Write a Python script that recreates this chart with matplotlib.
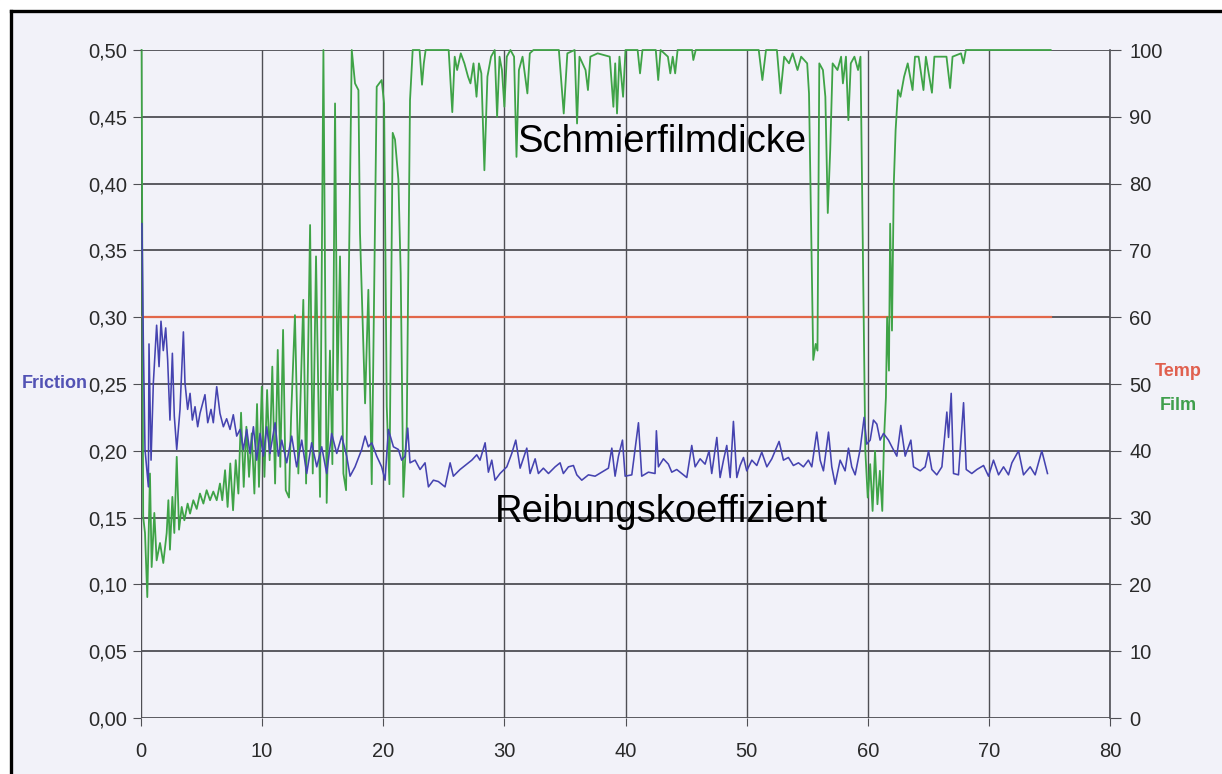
import matplotlib
matplotlib.use("Agg")
import matplotlib.pyplot as plt
from matplotlib.lines import Line2D
from matplotlib.patches import Rectangle

plt.rcParams['font.family'] = ['Liberation Sans', 'DejaVu Sans']

# Reibungskoeffizient (left axis)
friction_x = [0.08, 0.19, 0.33, 0.61, 0.66, 0.83, 1.02, 1.29, 1.49, 1.65, 1.84, 2.04, 2.20, 2.39, 2.59,
              2.75, 2.95, 3.22, 3.50, 3.63, 3.85, 4.05, 4.24, 4.46, 4.68, 4.87, 5.28, 5.51, 5.78, 5.97,
              6.25, 6.52, 6.80, 7.07, 7.35, 7.62, 7.90, 8.18, 8.45, 8.73, 9.00, 9.28, 9.55, 9.83, 10.10,
              10.38, 10.65, 11.07, 11.34, 11.62, 12.03, 12.44, 12.85, 13.27, 13.68, 14.09, 14.51, 14.92,
              15.33, 15.74, 16.16, 16.57, 16.98, 17.26, 17.67, 18.22, 18.50, 18.77, 19.05, 19.46, 19.87,
              20.15, 20.42, 20.84, 21.25, 21.52, 21.80, 22.02, 22.21, 22.63, 23.04, 23.45, 23.73, 24.14,
              24.55, 25.10, 25.52, 25.79, 26.34, 26.75, 27.31, 27.72, 27.99, 28.41, 28.68, 28.96, 29.23,
              29.64, 30.20, 30.61, 30.94, 31.30, 31.85, 32.12, 32.54, 32.81, 33.22, 33.64, 34.19, 34.60,
              34.87, 35.29, 35.70, 35.98, 36.39, 36.94, 37.49, 38.04, 38.59, 38.87, 39.14, 39.42, 39.75,
              39.97, 40.52, 41.07, 41.34, 41.89, 42.44, 42.55, 42.72, 43.13, 43.54, 43.82, 44.23, 44.65,
              45.06, 45.47, 45.75, 46.16, 46.57, 46.90, 47.12, 47.54, 47.81, 48.09, 48.36, 48.64, 48.91,
              49.19, 49.46, 49.74, 50.01, 50.43, 50.84, 51.25, 51.67, 52.08, 52.68, 53.04, 53.45, 53.86,
              54.28, 54.69, 55.10, 55.38, 55.79, 56.07, 56.34, 56.76, 57.03, 57.31, 57.72, 58.13, 58.41,
              58.68, 58.96, 59.37, 59.70, 59.92, 60.20, 60.47, 60.75, 61.02, 61.30, 61.71, 61.99, 62.40,
              62.73, 63.09, 63.56, 63.78, 64.33, 64.74, 65.02, 65.29, 65.70, 66.12, 66.53, 66.67, 66.89,
              67.08, 67.49, 67.91, 68.13, 68.59, 69.01, 69.56, 69.97, 70.38, 70.80, 71.21, 71.62, 71.90,
              72.45, 72.86, 73.41, 73.82, 74.37, 74.84]
friction_y = [0.370, 0.283, 0.201, 0.173, 0.280, 0.193, 0.251, 0.294, 0.263, 0.297, 0.275, 0.292, 0.268,
              0.223, 0.273, 0.226, 0.201, 0.231, 0.289, 0.251, 0.231, 0.243, 0.223, 0.233, 0.218, 0.228,
              0.242, 0.221, 0.231, 0.221, 0.248, 0.228, 0.218, 0.224, 0.216, 0.227, 0.211, 0.216, 0.201,
              0.216, 0.198, 0.218, 0.193, 0.213, 0.196, 0.218, 0.198, 0.221, 0.196, 0.208, 0.191, 0.211,
              0.188, 0.208, 0.183, 0.206, 0.188, 0.203, 0.183, 0.213, 0.198, 0.211, 0.196, 0.181, 0.188,
              0.201, 0.211, 0.203, 0.206, 0.196, 0.188, 0.178, 0.216, 0.203, 0.201, 0.193, 0.196, 0.217,
              0.191, 0.193, 0.186, 0.191, 0.173, 0.178, 0.177, 0.173, 0.191, 0.181, 0.186, 0.189, 0.193,
              0.197, 0.193, 0.206, 0.184, 0.193, 0.178, 0.183, 0.188, 0.198, 0.208, 0.187, 0.202, 0.183,
              0.194, 0.183, 0.187, 0.183, 0.188, 0.191, 0.183, 0.188, 0.189, 0.182, 0.178, 0.182, 0.181,
              0.184, 0.187, 0.202, 0.181, 0.196, 0.208, 0.181, 0.182, 0.221, 0.181, 0.184, 0.183, 0.215,
              0.188, 0.194, 0.190, 0.184, 0.186, 0.183, 0.180, 0.204, 0.188, 0.194, 0.190, 0.200, 0.183,
              0.210, 0.180, 0.193, 0.204, 0.180, 0.222, 0.180, 0.189, 0.195, 0.185, 0.193, 0.189, 0.199,
              0.188, 0.194, 0.207, 0.193, 0.195, 0.189, 0.191, 0.188, 0.193, 0.188, 0.214, 0.193, 0.185,
              0.214, 0.188, 0.175, 0.193, 0.185, 0.202, 0.188, 0.182, 0.201, 0.225, 0.205, 0.208, 0.223,
              0.220, 0.208, 0.213, 0.208, 0.203, 0.196, 0.219, 0.196, 0.208, 0.188, 0.185, 0.188, 0.200,
              0.186, 0.182, 0.188, 0.229, 0.210, 0.243, 0.183, 0.182, 0.236, 0.186, 0.183, 0.186, 0.189,
              0.181, 0.193, 0.182, 0.188, 0.182, 0.191, 0.200, 0.182, 0.188, 0.182, 0.200, 0.183]

# Schmierfilmdicke (right axis)
film_x = [0.05, 0.18, 0.33, 0.52, 0.74, 0.88, 1.10, 1.29, 1.57, 1.84, 2.12, 2.26, 2.39, 2.59, 2.75, 2.95,
          3.14, 3.36, 3.58, 3.85, 4.05, 4.32, 4.60, 4.87, 5.15, 5.42, 5.70, 5.97, 6.25, 6.52, 6.71, 6.94,
          7.15, 7.37, 7.60, 7.82, 8.04, 8.26, 8.48, 8.70, 8.92, 9.14, 9.36, 9.58, 9.74, 9.97, 10.19, 10.41,
          10.62, 10.84, 11.07, 11.29, 11.50, 11.73, 11.95, 12.22, 12.39, 12.71, 12.99, 13.20, 13.40, 13.63,
          13.96, 14.18, 14.45, 14.78, 15.06, 15.33, 15.60, 15.80, 16.02, 16.21, 16.43, 16.71, 16.93, 17.40,
          17.67, 17.95, 18.08, 18.50, 18.77, 19.05, 19.46, 19.87, 20.07, 20.29, 20.51, 20.78, 20.97, 21.25,
          21.44, 21.66, 21.94, 22.21, 22.43, 23.00, 23.20, 23.35, 23.50, 25.40, 25.70, 25.90, 26.10, 26.40,
          26.70, 27.00, 27.20, 27.45, 27.70, 27.90, 28.10, 28.35, 28.60, 28.90, 29.20, 29.40, 29.60, 29.80,
          30.00, 30.20, 30.50, 30.80, 31.00, 31.20, 31.50, 31.90, 32.10, 32.40, 34.50, 34.90, 35.20, 35.80,
          36.00, 36.20, 36.70, 36.90, 37.10, 37.70, 38.70, 39.00, 39.15, 39.30, 39.50, 39.80, 40.00, 41.00,
          41.20, 41.40, 42.50, 42.70, 42.90, 43.50, 43.70, 43.90, 44.10, 44.30, 45.50, 45.60, 45.80, 51.00,
          51.30, 51.60, 52.50, 52.80, 53.10, 53.50, 53.80, 54.20, 54.50, 55.00, 55.15, 55.50, 55.70, 55.85,
          56.00, 56.30, 56.50, 56.70, 56.90, 57.10, 57.50, 57.80, 57.95, 58.20, 58.40, 58.60, 58.90, 59.20,
          59.40, 59.60, 59.80, 60.00, 60.20, 60.40, 60.60, 60.80, 61.00, 61.20, 61.35, 61.50, 61.60, 61.75,
          61.85, 62.00, 62.15, 62.30, 62.50, 62.70, 63.00, 63.30, 63.70, 63.90, 64.20, 64.60, 64.80, 65.30,
          65.50, 66.50, 66.80, 67.00, 67.70, 67.90, 68.10, 75.10]
film_y = [100, 30.1, 27.7, 18.1, 36.6, 22.6, 30.7, 23.6, 26.2, 23.2, 27.7, 32.6, 25.2, 33.1, 27.7, 39.1,
          28.2, 31.6, 29.6, 32.1, 30.6, 32.6, 31.3, 33.6, 32.1, 34.1, 32.6, 33.9, 32.6, 35.1, 32.6, 37.1,
          31.6, 38.1, 31.1, 38.6, 33.6, 45.7, 34.6, 43.6, 36.1, 42.6, 33.6, 47.0, 34.6, 49.6, 36.1, 49.1,
          38.6, 52.6, 35.1, 55.1, 37.6, 58.1, 34.1, 33.0, 45.0, 60.3, 36.6, 50.0, 62.6, 35.1,
          73.8, 36.6, 69.1, 33.1, 100, 32.2, 55.0, 38.0, 92.0, 49.1, 69.1, 36.6, 34.1, 100,
          95.0, 94.0, 72.6, 47.1, 64.1, 35.0, 94.5, 95.5, 92.0, 46.6, 35.0, 87.6, 86.6, 80.6,
          66.6, 33.1, 43.6, 92.5, 100, 100, 94.8, 98.0, 100, 100, 90.7, 99.0, 97.0, 99.5,
          98.0, 96.0, 95.0, 98.0, 93.0, 98.0, 96.5, 82.0, 96.0, 99.0, 100, 90.0, 99.0, 97.0,
          91.5, 99.0, 100, 99.0, 84.0, 97.0, 99.0, 93.5, 99.5, 100, 100, 90.5, 99.5, 100,
          89.0, 99.0, 97.0, 94.0, 99.0, 99.5, 99.0, 91.5, 98.0, 90.5, 99.0, 93.0, 100, 100,
          96.5, 100, 100, 95.5, 100, 99.0, 96.5, 99.0, 96.5, 100, 100, 98.5, 100, 100,
          95.5, 100, 100, 93.5, 99.0, 98.0, 99.5, 97.0, 99.0, 98.0, 93.5, 53.6, 56.0, 55.0,
          98.0, 97.0, 93.0, 75.6, 85.0, 98.0, 97.0, 99.0, 95.0, 99.0, 89.5, 98.0, 99.0, 97.0,
          99.0, 70.0, 40.0, 33.0, 38.0, 31.0, 40.0, 32.0, 37.0, 31.0, 42.0, 48.0, 60.0, 52.0,
          74.0, 58.0, 80.0, 88.0, 94.0, 93.0, 96.0, 98.0, 94.0, 99.0, 99.0, 94.0, 99.0, 93.6,
          99.0, 99.0, 94.3, 99.0, 99.5, 98.0, 100, 100]

# Temperatur (right axis)
temp_x = [0.0, 75.1]
temp_y = [60, 60]

x_ticks = [0, 10, 20, 30, 40, 50, 60, 70, 80]
left_ticks = [0.0, 0.05, 0.10, 0.15, 0.20, 0.25, 0.30, 0.35, 0.40, 0.45, 0.50]
left_labels = ['0,00', '0,05', '0,10', '0,15', '0,20', '0,25', '0,30', '0,35', '0,40', '0,45', '0,50']
right_ticks = [0, 10, 20, 30, 40, 50, 60, 70, 80, 90, 100]

bg = '#f2f2f9'
grid_c = '#4f4f55'
W, H = 1222, 774

fig = plt.figure(figsize=(W / 100, H / 100), dpi=100)
fig.patch.set_facecolor(bg)

ax = fig.add_axes([141 / W, 1 - 718 / H, 969 / W, 668 / H])
ax2 = ax.twinx()
ax.set_zorder(ax2.get_zorder() + 1)
ax.patch.set_visible(False)
ax2.patch.set_visible(True)
ax2.patch.set_facecolor(bg)

ax.set_xlim(0, 80)
ax.set_ylim(0, 0.5)
ax2.set_ylim(0, 100)

# grid on the back axes so the curves sit on top of it
ax2.set_axisbelow(True)
ax2.set_yticks(right_ticks)
ax2.grid(axis='y', color=grid_c, lw=1.3)
for xv in x_ticks:
    ax2.axvline(xv, color=grid_c, lw=1.0, zorder=0.5)

ax2.plot(temp_x, temp_y, color='#e2674a', lw=1.6)
ax2.plot(film_x, film_y, color='#3fa347', lw=1.3, clip_on=False)
ax.plot(friction_x, friction_y, color='#4543b0', lw=1.15, clip_on=False)

ax.set_xticks(x_ticks)
ax.set_yticks(left_ticks)
ax.set_yticklabels(left_labels)
ax.tick_params(axis='x', direction='out', length=6, color=grid_c, labelsize=14.5, pad=11, labelcolor='#2a2a2a')
ax.tick_params(axis='y', direction='out', length=6, color=grid_c, labelsize=14.5, pad=4, labelcolor='#2a2a2a')
ax2.tick_params(axis='y', direction='out', length=8, color=grid_c, labelsize=14.5, pad=6, labelcolor='#2a2a2a')

for s in ax.spines.values():
    s.set_visible(False)
for k, s in ax2.spines.items():
    if k == 'right':
        s.set_color(grid_c)
        s.set_linewidth(1.2)
    else:
        s.set_visible(False)

ax.text(43, 0.4235, 'Schmierfilmdicke', ha='center', va='baseline', fontsize=27.5, color='black')
ax.text(43, 0.1467, 'Reibungskoeffizient', ha='center', va='baseline', fontsize=27.5, color='black')

fig.text(22 / W, 1 - 383 / H, 'Friction', color='#5252b4', fontweight='bold', fontsize=13,
         ha='left', va='center')
fig.text(1155 / W, 1 - 372 / H, 'Temp', color='#e0604f', fontweight='bold', fontsize=13,
         ha='left', va='center')
fig.text(1160 / W, 1 - 405 / H, 'Film', color='#3f9f4c', fontweight='bold', fontsize=13,
         ha='left', va='center')

# scanned page frame (white margin + black border on left and top)
fig.add_artist(Rectangle((0, 0), 9 / W, 1, transform=fig.transFigure, color='white', zorder=-1))
fig.add_artist(Rectangle((0, 1 - 9 / H), 1, 9 / H, transform=fig.transFigure, color='white', zorder=-1))
fig.add_artist(Line2D([10.5 / W, 10.5 / W], [0, 1 - 10.5 / H], transform=fig.transFigure,
                      color='black', lw=2.4))
fig.add_artist(Line2D([10.5 / W, 1], [1 - 10.5 / H, 1 - 10.5 / H], transform=fig.transFigure,
                      color='black', lw=2.4))

fig.savefig('out.png', dpi=100, facecolor=fig.get_facecolor())
